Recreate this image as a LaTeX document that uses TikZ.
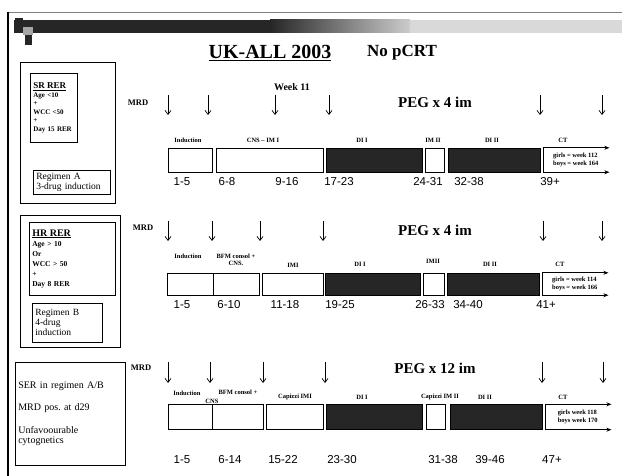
\documentclass[tikz,border=0pt]{standalone}
\usepackage{fontspec}
\setmainfont{Liberation Serif}
\newfontfamily\numfont{Liberation Sans}
\usetikzlibrary{arrows.meta,positioning}

\begin{document}
\begin{tikzpicture}[x=1pt, y=-1pt, >={Straight Barb[length=4pt,width=6pt]},
  phase/.style={draw, line width=0.9pt, inner sep=0pt, minimum height=24pt, anchor=west},
  dark/.style={phase, fill=black!85},
  lbl/.style={font=\bfseries\fontsize{6.5}{7}\selectfont, inner sep=0pt, align=center},
  wk/.style={font=\numfont\fontsize{11.5}{12}\selectfont, inner sep=0pt},
  peg/.style={font=\bfseries\fontsize{15}{16}\selectfont, inner sep=0pt},
  mrd/.style={font=\bfseries\fontsize{8.5}{9}\selectfont, inner sep=0pt},
  mrdarrow/.style={->, line width=0.7pt},
  ctbox/.style={inner sep=0pt, minimum height=24pt, minimum width=64pt, anchor=west, align=left,
    font=\bfseries\fontsize{6.5}{8.5}\selectfont},
  ctline/.style={-{Stealth[length=5pt,width=4pt]}, line width=1pt},
  infobox/.style={draw, line width=0.6pt, anchor=north west, align=left, inner sep=3pt}]
  \useasboundingbox (0,0) rectangle (622,476);

  % --- 1. Banner, frame and title ---
  \draw[black!50, line width=0.4pt] (8,12) -- (622,12);
  \draw[line width=1.5pt] (8,12) -- (8,476);
  \fill[black!85] (14,20) rectangle (270,33);
  \shade[left color=black!85, right color=black!20] (270,20) rectangle (410,33);
  \fill[black!15] (410,20) rectangle (622,33);
  \fill[black!85] (15,18) rectangle (23,28);
  \fill[black!35] (23,27) rectangle (33,35);
  \fill[black!85] (25,35) rectangle (32,45);
  \node[font=\bfseries\fontsize{20}{22}\selectfont] (title) at (270,53) {\underline{UK-ALL 2003}};
  \node[font=\bfseries\fontsize{17}{20}\selectfont] (nopcrt) at (402,53) {No pCRT};

  % --- 2. Risk groups (left) ---
  \node[draw, line width=0.6pt, minimum width=95pt, minimum height=141pt, anchor=north west] (grpA) at (20,62) {};
  \node[infobox, text width=41pt, minimum height=69pt, font=\bfseries\fontsize{7}{8.5}\selectfont] (srrer) at (30,73)
    {{\fontsize{9}{10}\selectfont\underline{SR RER}}\\Age <10\\+\\WCC <50\\+\\Day 15 RER};
  \node[infobox, text width=71pt, font=\fontsize{9.5}{10}\selectfont] (regA) at (33,170) {Regimen A\\3-drug induction};

  \node[draw, line width=0.6pt, minimum width=100pt, minimum height=132pt, anchor=north west] (grpB) at (20,215) {};
  \node[infobox, text width=80pt, minimum height=73pt, font=\bfseries\fontsize{7.5}{10}\selectfont] (hrrer) at (29,222)
    {{\fontsize{10}{11}\selectfont\underline{HR RER}}\\Age > 10\\Or\\WCC > 50\\+\\Day 8 RER};
  \node[infobox, text width=64pt, minimum height=39pt, font=\fontsize{9.5}{10}\selectfont] (regB) at (32,303) {Regimen B\\4-drug\\induction};

  \node[infobox, text width=104pt, minimum height=103pt, inner ysep=6pt, font=\fontsize{10}{10.5}\selectfont] (grpC) at (15,362)
    {SER in regimen A/B\\[12pt]MRD pos.\ at d29\\[12pt]Unfavoourable\\cytognetics};

  % --- 3. MRD time points and PEG ---
  \node[mrd] (mrdA) at (138,103) {MRD};
  \node[mrd] (mrdB) at (143,228) {MRD};
  \node[mrd] (mrdC) at (141,368) {MRD};
  \foreach \x in {168,208,275,329,540,602} \draw[mrdarrow] (\x,95) -- (\x,115);
  \foreach \x in {168,212,260,323,543,602} \draw[mrdarrow] (\x,221) -- (\x,241);
  \foreach \x in {168,210,263,325,542,603} \draw[mrdarrow] (\x,362) -- (\x,383);
  \node[font=\bfseries\fontsize{10}{11}\selectfont] (week11) at (292,87) {Week 11};
  \node[peg] (pegA) at (435,102) {PEG x 4 im};
  \node[peg] (pegB) at (435,230) {PEG x 4 im};
  \node[peg] (pegC) at (435,368) {PEG x 12 im};

  % --- 4. Regimen A ---
  \node[phase, minimum width=44pt] (indA) at (168,160) {};
  \node[phase, minimum width=107pt] (cnsA) at (216,160) {};
  \node[dark, minimum width=96pt] (di1A) at (326,160) {};
  \node[phase, minimum width=19pt] (im2A) at (425,160) {};
  \node[dark, minimum width=92pt] (di2A) at (448,160) {};
  \node[ctbox] (ctA) at (543,160) {\,girls = week 112\\\,boys = week 164};
  \draw[line width=1pt] (ctA.north west) -- (ctA.south west);
  \draw[ctline] (ctA.north west) -- ([xshift=2pt]ctA.north east);
  \draw[ctline] (ctA.south west) -- ([xshift=2pt]ctA.south east);
  \node[lbl] (lindA) at (188,140) {Induction};
  \node[lbl] (lcnsA) at (263,140) {CNS -- IM I};
  \node[lbl] (ldi1A) at (362,140) {DI I};
  \node[lbl] (lim2A) at (433,140) {IM II};
  \node[lbl] (ldi2A) at (492,140) {DI II};
  \node[lbl] (lctA) at (563,140) {CT};
  \node[wk] (wA1) at (182,182) {1-5};
  \node[wk] (wA2) at (227,182) {6-8};
  \node[wk] (wA3) at (287,182) {9-16};
  \node[wk] (wA4) at (339,182) {17-23};
  \node[wk] (wA5) at (428,182) {24-31};
  \node[wk] (wA6) at (469,182) {32-38};
  \node[wk] (wA7) at (550,182) {39+};

  % --- 5. Regimen B ---
  \node[phase, minimum width=46pt, minimum height=22pt] (indB) at (167,284) {};
  \node[phase, minimum width=46pt, minimum height=22pt] (bfmB) at (213,284) {};
  \node[phase, minimum width=61pt, minimum height=22pt] (im1B) at (262,284) {};
  \node[dark, minimum width=95pt, minimum height=22pt] (di1B) at (325,284) {};
  \node[phase, minimum width=21pt, minimum height=22pt] (im2B) at (423,284) {};
  \node[dark, minimum width=92pt, minimum height=22pt] (di2B) at (447,284) {};
  \node[ctbox, minimum height=22pt] (ctB) at (542,284) {\,girls = week 114\\\,boys = week 166};
  \draw[line width=1pt] (ctB.north west) -- (ctB.south west);
  \draw[ctline] (ctB.north west) -- ([xshift=2pt]ctB.north east);
  \draw[ctline] (ctB.south west) -- ([xshift=2pt]ctB.south east);
  \node[lbl] (lindB) at (188,256) {Induction};
  \node[lbl] (lbfmB) at (236,260) {BFM consol +\\CNS.};
  \node[lbl] (lim1B) at (293,265) {IMI};
  \node[lbl] (ldi1B) at (360,264) {DI I};
  \node[lbl] (lim2B) at (433,261) {IMII};
  \node[lbl] (ldi2B) at (490,264) {DI II};
  \node[lbl] (lctB) at (560,264) {CT};
  \node[wk] (wB1) at (182,305) {1-5};
  \node[wk] (wB2) at (229,305) {6-10};
  \node[wk] (wB3) at (285,305) {11-18};
  \node[wk] (wB4) at (340,305) {19-25};
  \node[wk] (wB5) at (430,305) {26-33};
  \node[wk] (wB6) at (468,305) {34-40};
  \node[wk] (wB7) at (546,305) {41+};

  % --- 6. SER / MRD positive ---
  \node[phase, minimum width=44pt, minimum height=25pt] (indC) at (168,417) {};
  \node[phase, minimum width=51pt, minimum height=25pt] (bfmC) at (212,417) {};
  \node[phase, minimum width=57pt, minimum height=25pt] (im1C) at (266,417) {};
  \node[dark, minimum width=96pt, minimum height=25pt] (di1C) at (326,417) {};
  \node[phase, minimum width=19pt, minimum height=25pt] (im2C) at (426,417) {};
  \node[dark, minimum width=92pt, minimum height=25pt] (di2C) at (450,417) {};
  \node[ctbox, minimum height=25pt] (ctC) at (545,417) {\,girls week 118\\\,boys week 170};
  \draw[line width=1pt] (ctC.north west) -- (ctC.south west);
  \draw[ctline] (ctC.north west) -- ([xshift=2pt]ctC.north east);
  \draw[ctline] (ctC.south west) -- ([xshift=2pt]ctC.south east);
  \node[lbl] (lindC) at (187,393) {Induction};
  \node[lbl] (lbfmC) at (238,392) {BFM consol +};
  \node[lbl] (lcnsC) at (212,401) {CNS};
  \node[lbl] (lim1C) at (295,397) {Capizzi IMI};
  \node[lbl] (ldi1C) at (362,397) {DI I};
  \node[lbl] (lim2C) at (440,397) {Capizzi IM II};
  \node[lbl] (ldi2C) at (485,397) {DI II};
  \node[lbl] (lctC) at (563,397) {CT};
  \node[wk] (wC1) at (182,460) {1-5};
  \node[wk] (wC2) at (230,460) {6-14};
  \node[wk] (wC3) at (283,460) {15-22};
  \node[wk] (wC4) at (342,460) {23-30};
  \node[wk] (wC5) at (443,460) {31-38};
  \node[wk] (wC6) at (490,460) {39-46};
  \node[wk] (wC7) at (552,460) {47+};

\end{tikzpicture}
\end{document}
